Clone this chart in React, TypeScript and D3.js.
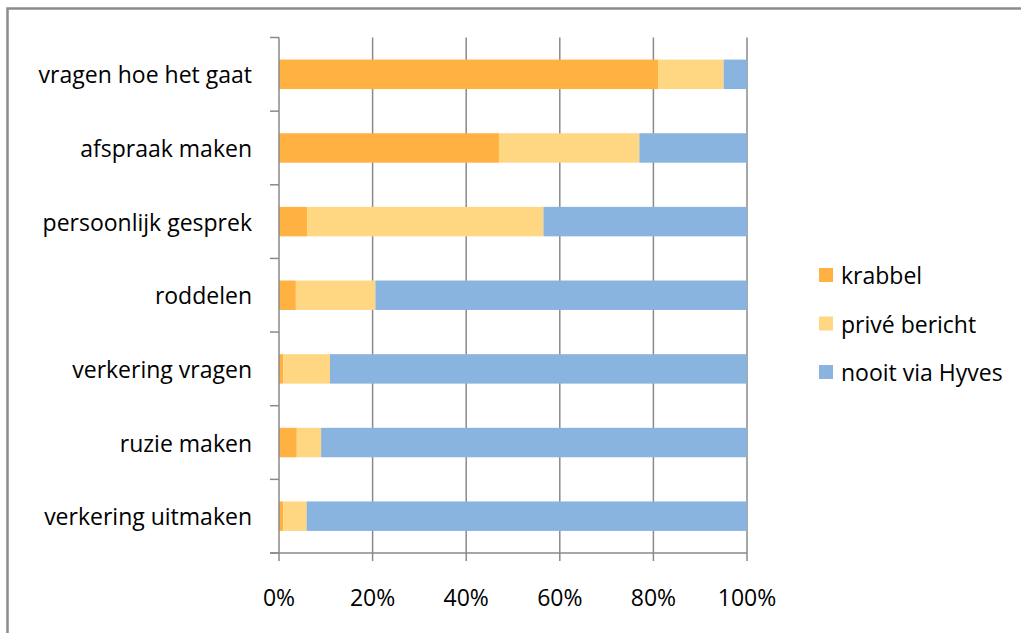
import React from "react";
import * as d3 from "d3";

const categories = [
  "vragen hoe het gaat",
  "afspraak maken",
  "persoonlijk gesprek",
  "roddelen",
  "verkering vragen",
  "ruzie maken",
  "verkering uitmaken",
];
const seriesNames = ["krabbel", "privé bericht", "nooit via Hyves"];
const krabbel = [81, 47, 6, 3.6, 0.9, 3.8, 0.9];
const priveBericht = [14, 30, 50.5, 17, 10, 5.2, 5];
const nooitViaHyves = [5, 23, 43.5, 79.4, 89.1, 91, 94.1];
const xTicks = [0, 0.2, 0.4, 0.6, 0.8, 1];
const colors = ["#FFB142", "#FFD783", "#88B4DF"];

export default function App() {
  const W = 1021, H = 633;
  const x0 = 279, x1 = 747, y0 = 37.5, y1 = 553;
  const x = d3.scaleLinear().domain([0, 1]).range([x0, x1]);
  const y = d3.scaleBand().domain(categories).range([y0, y1]).paddingInner(0.6).paddingOuter(0.3);
  const band = d3.scaleBand().domain(categories).range([y0, y1]);
  const rows = categories.map((c, i) => {
    const vals = [krabbel[i], priveBericht[i], nooitViaHyves[i]];
    const total = d3.sum(vals);
    let acc = 0;
    return vals.map((v, k) => {
      const s = acc / total;
      acc += v;
      return { c, k, s, e: acc / total };
    });
  });
  const font = "'Open Sans', sans-serif";
  const fs = 23;
  const grid = "#8a8a8a";
  return (
    <svg width={W} height={H} style={{ position: "absolute", left: 0, top: 0, background: "#fff" }}>
      <rect x={7.5} y={8.5} width={W + 20} height={H + 20} fill="#fff" stroke="#8c8c8c" strokeWidth={2.5} />
      {xTicks.slice(1).map((t) => (
        <line key={t} x1={x(t)} x2={x(t)} y1={y0} y2={y1} stroke={grid} strokeWidth={1.5} />
      ))}
      {rows.map((r) =>
        r.map((seg) => (
          <rect
            key={seg.c + seg.k}
            x={x(seg.s)}
            width={x(seg.e) - x(seg.s)}
            y={y(seg.c)!}
            height={y.bandwidth()}
            fill={colors[seg.k]}
          />
        ))
      )}
      {/* y axis */}
      <line x1={x0} x2={x0} y1={y0} y2={y1} stroke={grid} strokeWidth={1.5} />
      {categories.map((c) => (
        <line key={"t" + c} x1={x0 - 9} x2={x0} y1={band(c)!} y2={band(c)!} stroke={grid} strokeWidth={1.5} />
      ))}
      <line x1={x0 - 9} x2={x0} y1={y1} y2={y1} stroke={grid} strokeWidth={1.5} />
      {categories.map((c) => (
        <text
          key={"l" + c}
          x={252}
          y={y(c)! + y.bandwidth() / 2}
          textAnchor="end"
          dominantBaseline="central"
          fontFamily={font}
          fontSize={fs}
          fill="#000"
        >
          {c}
        </text>
      ))}
      {/* x axis */}
      <line x1={x0 - 9} x2={x1} y1={y1} y2={y1} stroke={grid} strokeWidth={1.5} />
      {xTicks.map((t) => (
        <line key={"xt" + t} x1={x(t)} x2={x(t)} y1={y1} y2={y1 + 8} stroke={grid} strokeWidth={1.5} />
      ))}
      {xTicks.map((t) => (
        <text
          key={"xl" + t}
          x={x(t)}
          y={597}
          textAnchor="middle"
          dominantBaseline="central"
          fontFamily={font}
          fontSize={fs}
          fill="#000"
        >
          {d3.format(".0%")(t)}
        </text>
      ))}
      {/* legend */}
      {seriesNames.map((n, i) => (
        <g key={n} transform={`translate(819, ${268 + i * 48.5})`}>
          <rect x={0} y={0} width={14} height={14} fill={colors[i]} />
          <text x={22} y={7} dominantBaseline="central" fontFamily={font} fontSize={fs} fill="#000">
            {n}
          </text>
        </g>
      ))}
    </svg>
  );
}
